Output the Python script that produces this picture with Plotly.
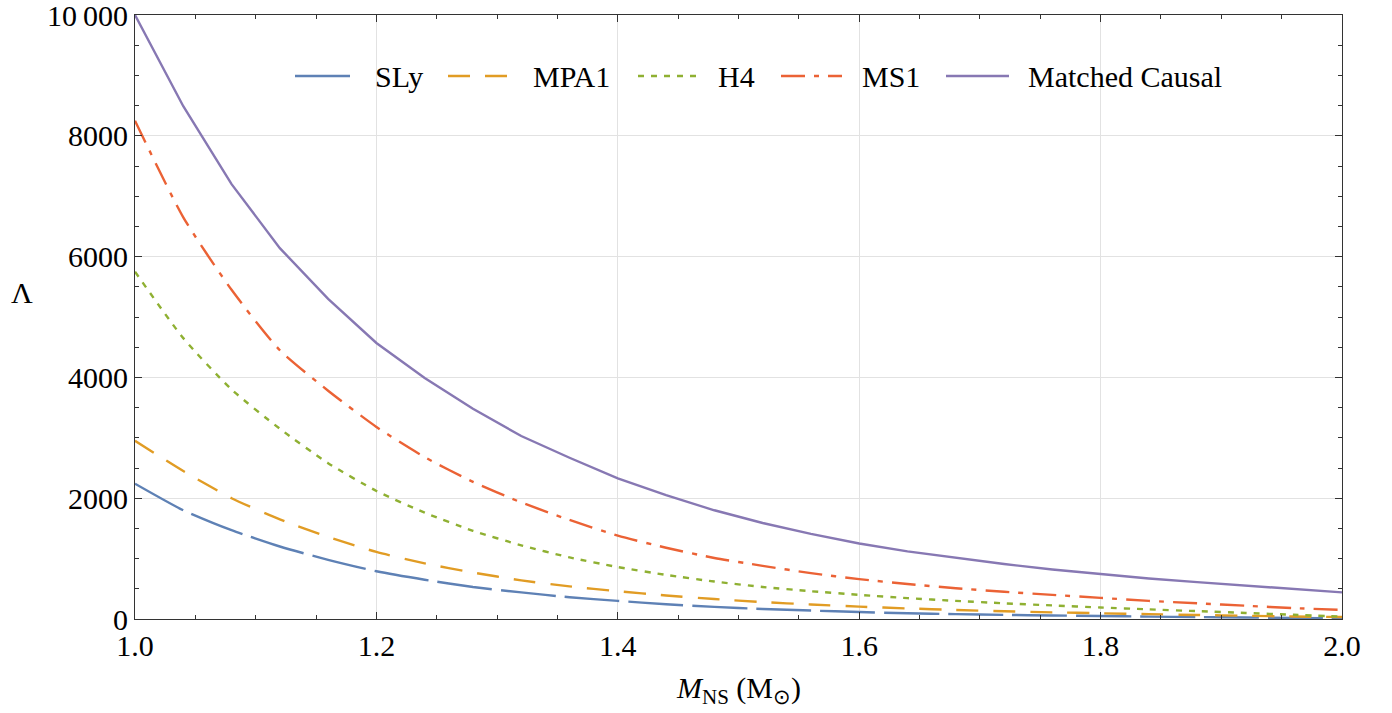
import plotly.graph_objects as go

mass = [1.0, 1.04, 1.08, 1.12, 1.16, 1.2, 1.24, 1.28, 1.32, 1.36, 1.4, 1.44, 1.48, 1.52, 1.56,
        1.6, 1.64, 1.68, 1.72, 1.76, 1.8, 1.84, 1.88, 1.92, 1.96, 2.0]

sly = [2240, 1800, 1470, 1200, 980, 790, 650, 530, 440, 360, 300, 245, 200, 165, 140,
       115, 95, 80, 68, 58, 50, 40, 32, 25, 18, 12]
mpa1 = [2950, 2450, 2000, 1650, 1360, 1110, 920, 770, 640, 540, 460, 390, 330, 280, 240,
        205, 175, 150, 128, 110, 95, 80, 66, 54, 42, 32]
h4 = [5750, 4650, 3800, 3150, 2580, 2120, 1760, 1460, 1220, 1020, 860, 730, 620, 530, 460,
      400, 345, 300, 260, 225, 190, 160, 130, 100, 70, 40]
ms1 = [8250, 6650, 5450, 4450, 3780, 3180, 2680, 2270, 1930, 1640, 1380, 1180, 1010, 880, 760,
       660, 580, 510, 450, 400, 350, 300, 260, 220, 180, 150]
causal = [10000, 8490, 7200, 6140, 5300, 4570, 3990, 3480, 3030, 2670, 2330, 2050, 1800, 1590,
          1410, 1250, 1120, 1010, 910, 820, 740, 670, 610, 550, 490, 440]

names = ["SLy", "MPA1", "H4", "MS1", "Matched Causal"]
series = [sly, mpa1, h4, ms1, causal]
colors = ["#5E81B5", "#E19C24", "#8FB032", "#EB6235", "#8778B3"]
dashes = ["55px,9px", "22px,15px", "6px,7px", "24px,9px,5px,9px", "solid"]
shapes_kind = ["spline", "spline", "spline", "spline", "linear"]

yticks = [0, 2000, 4000, 6000, 8000, 10000]
yticktext = ["0", "2000", "4000", "6000", "8000", "10\u2009000"]
xticks = [1.0, 1.2, 1.4, 1.6, 1.8, 2.0]
xticktext = ["1.0", "1.2", "1.4", "1.6", "1.8", "2.0"]

# legend layout (pixel positions of line start / end in the page)
leg_line_x0 = [295, 448, 638, 781, 946]
leg_line_x1 = [357, 508, 703, 842, 1009]
leg_text_x = [373, 531, 716, 860, 1026]
leg_y_px = 76

font = "Liberation Serif, Times New Roman, serif"
FS = 30
L, R, T, B = 135, 50, 15, 94
W, H = 1392, 713
pw, ph = W - L - R, H - T - B

fig = go.Figure()
for n, s, c, d, k in zip(names, series, colors, dashes, shapes_kind):
    line = dict(color=c, width=2.4, dash=d, shape=k)
    if k == "spline":
        line["smoothing"] = 0.6
    fig.add_trace(go.Scatter(x=mass, y=s, name=n, mode="lines", line=line, showlegend=False))

def px2x(px):
    return (px - L) / pw

def py2y(py):
    return (H - B - py) / ph

for n, c, d, x0, x1, tx in zip(names, colors, dashes, leg_line_x0, leg_line_x1, leg_text_x):
    fig.add_shape(type="line", xref="paper", yref="paper",
                  x0=px2x(x0), x1=px2x(x1), y0=py2y(leg_y_px), y1=py2y(leg_y_px),
                  line=dict(color=c, width=2.6, dash=d))
    fig.add_annotation(text=n, xref="paper", yref="paper", x=px2x(tx), y=py2y(leg_y_px),
                       xanchor="left", yanchor="middle", showarrow=False,
                       font=dict(family=font, size=FS, color="black"))

axis_common = dict(showline=True, linecolor="#333", linewidth=1.2, mirror="allticks",
                   ticks="inside", ticklen=7, tickcolor="#333", tickwidth=1,
                   showgrid=True, gridcolor="#e2e2e2", gridwidth=1, zeroline=False,
                   ticklabeloverflow="allow", automargin=False,
                   tickfont=dict(family=font, size=FS, color="black"))

fig.update_xaxes(range=[1.0, 2.0], tickvals=xticks, ticktext=xticktext,
                 minor=dict(dtick=0.05, tick0=1.0, ticks="inside", ticklen=4, tickcolor="#333", showgrid=False),
                 **axis_common)
fig.update_yaxes(range=[0, 10000], tickvals=yticks, ticktext=yticktext,
                 minor=dict(dtick=500, tick0=0, ticks="inside", ticklen=4, tickcolor="#333", showgrid=False),
                 **axis_common)

fig.add_annotation(text="<i>M</i><sub>NS</sub> (M<sub>\u2299</sub>)", xref="paper", yref="paper",
                   x=px2x(738), y=py2y(690), xanchor="center", yanchor="middle",
                   showarrow=False, font=dict(family=font, size=FS, color="black"))
fig.add_annotation(text="\u039b", xref="paper", yref="paper", x=px2x(22), y=py2y(292),
                   xanchor="center", yanchor="middle",
                   showarrow=False, font=dict(family=font, size=FS, color="black"))

fig.update_layout(
    width=W, height=H,
    margin=dict(l=L, r=R, t=T, b=B, autoexpand=False),
    plot_bgcolor="white", paper_bgcolor="white",
    showlegend=False,
)
fig.write_html("out.html", config={"displayModeBar": False})

with open("out.html", "r", encoding="utf-8") as f:
    html = f.read()
html = html.replace("<body>", "<body style=\"margin:0;overflow:hidden\">", 1)
with open("out.html", "w", encoding="utf-8") as f:
    f.write(html)
